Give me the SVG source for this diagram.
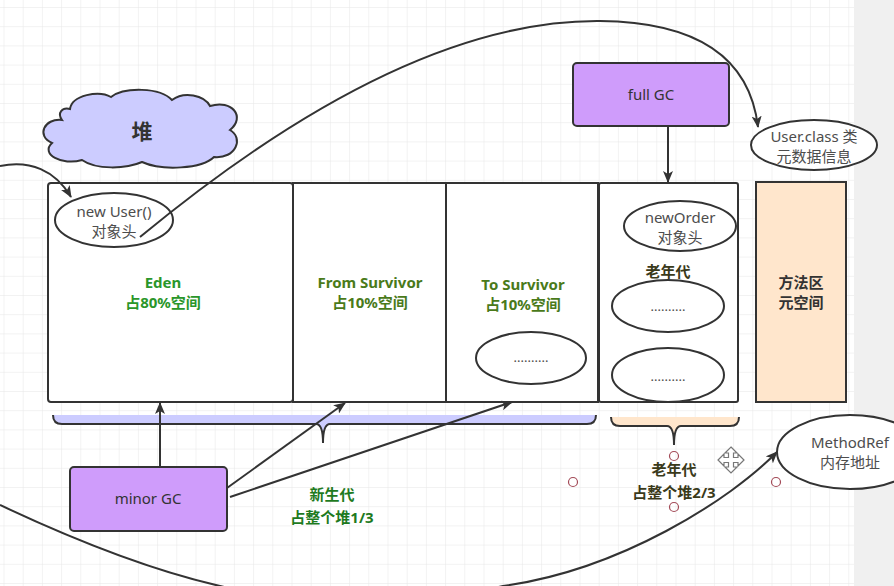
<svg xmlns="http://www.w3.org/2000/svg" width="894" height="586" viewBox="0 0 894 586">
<defs>
<pattern id="grid" x="3.5" y="7" width="19.2" height="19.2" patternUnits="userSpaceOnUse">
<path d="M0,0 L19.2,0 M0,0 L0,19.2" fill="none" stroke="#e6e6e6" stroke-width="1"/>
</pattern>
<marker id="arr" viewBox="0 0 12 10" refX="11" refY="5" markerWidth="12" markerHeight="10" orient="auto" markerUnits="userSpaceOnUse">
<path d="M0,0 L12,5 L0,10 L3,5 Z" fill="#333"/>
</marker>
</defs>
<style>
.box{fill:#fff;stroke:#333;stroke-width:2}
.gc{fill:#cf9cfb;stroke:#333;stroke-width:2}
.ell{fill:#fff;stroke:#333;stroke-width:2}
.ln{fill:none;stroke:#333;stroke-width:2}
.t{font-family:"Noto Sans","Noto Sans CJK SC",sans-serif;font-size:15px;fill:#4d4d4d;text-anchor:middle}
.b{font-family:"Noto Sans","Noto Sans CJK SC",sans-serif;font-size:15px;font-weight:bold;text-anchor:middle}
.h{fill:none;stroke:#a34a57;stroke-width:1.2}
</style>
<rect width="894" height="586" fill="#fff"/>
<rect width="894" height="586" fill="url(#grid)"/>
<rect x="854" y="0" width="40" height="586" fill="#f0f0f0"/>

<g id="heap-cloud">
<path d="M62,120 C44,118 36,136 52,143 C40,154 62,166 82,160 C96,170 126,169 142,162 C162,171 202,169 214,157 C236,159 244,138 230,130 C246,117 232,99 210,106 C204,95 184,91 172,100 C160,87 124,87 111,97 C99,90 72,95 70,109 C62,107 57,113 62,120 Z" fill="#ccccff" stroke="#333" stroke-width="2"/>
<text class="b" x="142" y="139" style="font-size:21px;fill:#333">堆</text>
</g>

<g id="eden">
<rect class="box" x="48" y="183" width="245" height="219" rx="3"/>
<text class="b" x="163" y="288" style="fill:#2a962a">Eden</text>
<text class="b" x="163" y="308" style="fill:#2a962a">占80%空间</text>
</g>
<g id="from-survivor">
<rect class="box" x="293" y="183" width="153" height="219"/>
<text class="b" x="370" y="288" style="fill:#4a7a1a">From Survivor</text>
<text class="b" x="370" y="308" style="fill:#4a7a1a">占10%空间</text>
</g>
<g id="to-survivor">
<rect class="box" x="446" y="183" width="152" height="219"/>
<text class="b" x="523" y="290" style="fill:#4a7a1a">To Survivor</text>
<text class="b" x="523" y="310" style="fill:#4a7a1a">占10%空间</text>
</g>
<g id="to-obj">
<ellipse class="ell" cx="531" cy="358" rx="55" ry="26"/>
<text class="t" x="531" y="362" style="font-size:13px">..........</text>
</g>
<g id="old-gen">
<rect class="box" x="599" y="183" width="139" height="219" rx="2"/>
<text class="b" x="668" y="277" style="fill:#3a3a1a">老年代</text>
</g>
<g id="new-order">
<ellipse class="ell" cx="680" cy="226" rx="56" ry="25"/>
<text class="t" x="680" y="223">newOrder</text>
<text class="t" x="680" y="243">对象头</text>
</g>
<g id="old-obj1">
<ellipse class="ell" cx="668" cy="306" rx="56" ry="26"/>
<text class="t" x="668" y="311" style="font-size:13px">..........</text>
</g>
<g id="old-obj2">
<ellipse class="ell" cx="668" cy="375" rx="56" ry="27"/>
<text class="t" x="668" y="381" style="font-size:13px">..........</text>
</g>
<g id="method-area">
<rect x="756" y="182" width="90" height="220" fill="#ffe6cc" stroke="#333" stroke-width="2"/>
<text class="b" x="801" y="288" style="fill:#333">方法区</text>
<text class="b" x="801" y="308" style="fill:#333">元空间</text>
</g>
<g id="new-user">
<ellipse class="ell" cx="114" cy="220" rx="59" ry="27"/>
<text class="t" x="114" y="217">new User()</text>
<text class="t" x="114" y="237">对象头</text>
</g>
<g id="full-gc">
<rect class="gc" x="573" y="63" width="156" height="63" rx="4"/>
<text class="t" x="651" y="100" style="fill:#333">full GC</text>
</g>
<g id="minor-gc">
<rect class="gc" x="70" y="467" width="157" height="64" rx="4"/>
<text class="t" x="148" y="504" style="fill:#333">minor GC</text>
</g>
<g id="user-class">
<ellipse class="ell" cx="814" cy="145" rx="63" ry="25"/>
<text class="t" x="814" y="142">User.class 类</text>
<text class="t" x="814" y="162">元数据信息</text>
</g>
<g id="method-ref">
<ellipse class="ell" cx="850" cy="452" rx="73" ry="37"/>
<text class="t" x="850" y="448">MethodRef</text>
<text class="t" x="850" y="468">内存地址</text>
</g>

<g id="young-brace">
<path d="M53,415 Q53,424 62,424 L316,424 Q323,424 323,443 Q323,424 330,424 L587,424 Q596,424 596,415 Z" fill="#ccccff"/>
<path class="ln" d="M53,415 Q53,424 62,424 L316,424 Q323,424 323,443 Q323,424 330,424 L587,424 Q596,424 596,415"/>
<text class="b" x="332" y="500" style="fill:#1e7a1e">新生代</text>
<text class="b" x="332" y="523" style="fill:#1e7a1e">占整个堆1/3</text>
</g>
<g id="old-brace">
<path d="M611,417 Q611,426 620,426 L667,426 Q674,426 674,445 Q674,426 681,426 L730,426 Q739,426 739,417 Z" fill="#ffe6cc"/>
<path class="ln" d="M611,417 Q611,426 620,426 L667,426 Q674,426 674,445 Q674,426 681,426 L730,426 Q739,426 739,417"/>
<text class="b" x="674" y="475" style="fill:#3a3a1a">老年代</text>
<text class="b" x="674" y="498" style="fill:#3a3a1a">占整个堆2/3</text>
</g>

<g id="connectors">
<path class="ln" d="M0,166 C30,160 55,170 71,197" marker-end="url(#arr)"/>
<path class="ln" d="M140,237 C330,80 480,20 600,21 C700,22 750,60 758,127" marker-end="url(#arr)"/>
<path class="ln" d="M668,127 L668,182" marker-end="url(#arr)"/>
<path class="ln" d="M160,467 L160,403" marker-end="url(#arr)"/>
<path class="ln" d="M227,488 L345,403" marker-end="url(#arr)"/>
<path class="ln" d="M230,497 L512,402" marker-end="url(#arr)"/>
<path class="ln" d="M0,505 C70,538 150,570 220,586 C300,605 420,605 503,586 C620,570 730,500 777,452" marker-end="url(#arr)"/>
</g>

<g id="handles">
<circle class="h" cx="674" cy="456" r="4.5"/>
<circle class="h" cx="573" cy="482" r="4.5"/>
<circle class="h" cx="776" cy="482" r="4.5"/>
<circle class="h" cx="674" cy="507" r="4.5"/>
</g>
<g id="cursor">
<path d="M731,447 L737,453 L733.5,453 L733.5,457.5 L738,457.5 L738,454 L744,460 L738,466 L738,462.5 L733.5,462.5 L733.5,467 L737,467 L731,473 L725,467 L728.5,467 L728.5,462.5 L724,462.5 L724,466 L718,460 L724,454 L724,457.5 L728.5,457.5 L728.5,453 L725,453 Z" fill="#fff" stroke="#777" stroke-width="1.2"/>
</g>
</svg>
